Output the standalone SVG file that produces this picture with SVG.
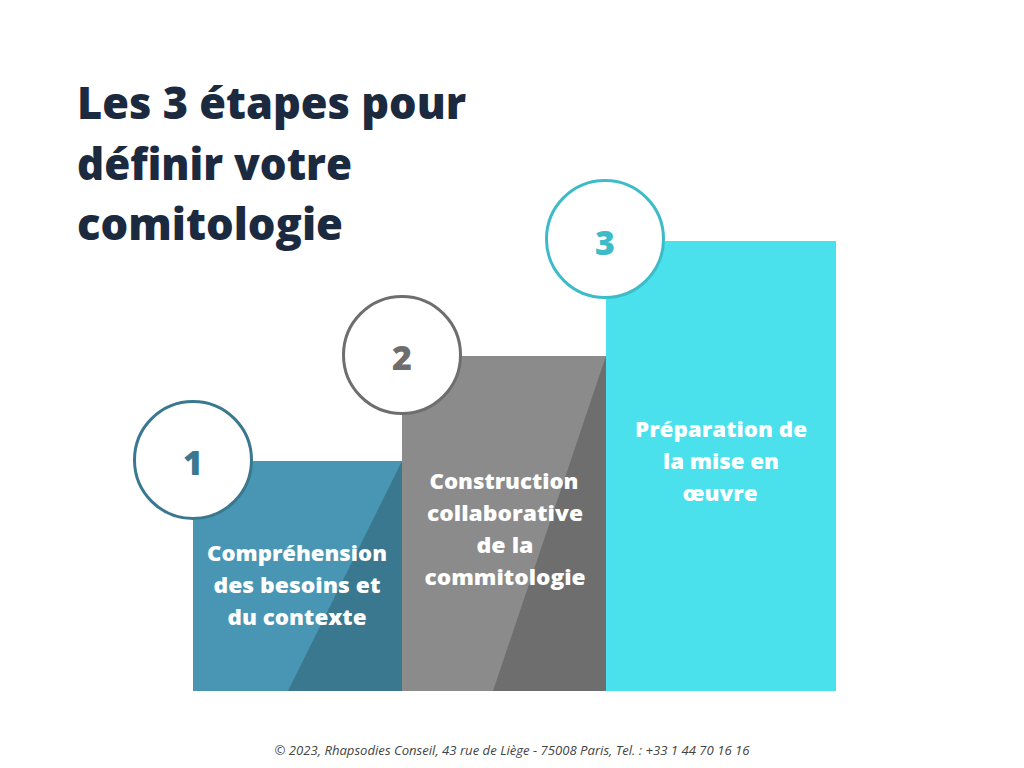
<svg xmlns="http://www.w3.org/2000/svg" width="1024" height="768" viewBox="0 0 1024 768">
  <style>
    .title { font-family: "Open Sans", "Liberation Sans", sans-serif; font-weight: 800; font-size: 45px; fill: #1c2a40; }
    .label { font-family: "Open Sans", "Liberation Sans", sans-serif; font-weight: 800; font-size: 21px; fill: #ffffff; text-anchor: middle; }
    .num { font-family: "Open Sans", "Liberation Sans", sans-serif; font-weight: 800; font-size: 34px; text-anchor: middle; }
    .ring { fill: #ffffff; stroke-width: 3; }
    .footer { font-family: "Open Sans", "Liberation Sans", sans-serif; font-style: italic; font-size: 12px; fill: #444444; text-anchor: middle; }
  </style>
  <rect width="1024" height="768" fill="#ffffff"/>

  <g id="title">
    <text class="title" x="77" y="119" textLength="389" lengthAdjust="spacingAndGlyphs">Les 3 étapes pour</text>
    <text class="title" x="77" y="180" textLength="275" lengthAdjust="spacingAndGlyphs">définir votre</text>
    <text class="title" x="77" y="240" textLength="266" lengthAdjust="spacingAndGlyphs">comitologie</text>
  </g>

  <g id="step1">
    <rect x="193" y="461" width="209" height="230" fill="#4896b3"/>
    <polygon points="402,461 402,691 288,691" fill="#3a7890"/>
    <circle class="ring" cx="193" cy="460" r="58.5" stroke="#3a7890"/>
    <text class="num" x="193" y="475" fill="#3a7890">1</text>
    <text class="label" x="297" y="561" textLength="180" lengthAdjust="spacingAndGlyphs">Compréhension</text>
    <text class="label" x="297" y="593" textLength="167" lengthAdjust="spacingAndGlyphs">des besoins et</text>
    <text class="label" x="297" y="625" textLength="139" lengthAdjust="spacingAndGlyphs">du contexte</text>
  </g>

  <g id="step2">
    <rect x="402" y="356" width="204" height="335" fill="#8a8b8a"/>
    <polygon points="606,356 606,691 493,691" fill="#6d6e6d"/>
    <circle class="ring" cx="402" cy="355" r="58.5" stroke="#6d6e6d"/>
    <text class="num" x="402" y="370" fill="#6d6e6d">2</text>
    <text class="label" x="504" y="489" textLength="149" lengthAdjust="spacingAndGlyphs">Construction</text>
    <text class="label" x="505" y="521" textLength="156" lengthAdjust="spacingAndGlyphs">collaborative</text>
    <text class="label" x="505" y="553" textLength="57" lengthAdjust="spacingAndGlyphs">de la</text>
    <text class="label" x="505" y="585" textLength="161" lengthAdjust="spacingAndGlyphs">commitologie</text>
  </g>

  <g id="step3">
    <rect x="606" y="241" width="230" height="450" fill="#4ae1ec"/>
    <circle class="ring" cx="605" cy="239" r="58.5" stroke="#3dbcc8"/>
    <text class="num" x="605" y="255" fill="#3dbcc8">3</text>
    <text class="label" x="721" y="437" textLength="172" lengthAdjust="spacingAndGlyphs">Préparation de</text>
    <text class="label" x="721" y="469" textLength="116" lengthAdjust="spacingAndGlyphs">la mise en</text>
    <text class="label" x="720" y="501" textLength="75" lengthAdjust="spacingAndGlyphs">œuvre</text>
  </g>

  <g id="connectors"></g>

  <text class="footer" x="512" y="755" textLength="475" lengthAdjust="spacingAndGlyphs">© 2023, Rhapsodies Conseil, 43 rue de Liège - 75008 Paris, Tel. : +33 1 44 70 16 16</text>
</svg>
